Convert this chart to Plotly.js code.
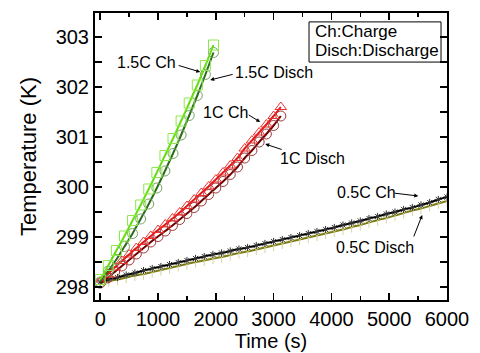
<!DOCTYPE html>
<html>
<head>
<meta charset="utf-8">
<script src="https://cdn.plot.ly/plotly-3.0.1.min.js"></script>
<style>
  html, body { margin: 0; padding: 0; background: #fff; }
  #chart { width: 480px; height: 353px; }
</style>
</head>
<body>
<div id="chart"></div>
<script>
// Cell temperature during charge / discharge at three C-rates
const t15 = [0, 140, 280, 420, 560, 700, 840, 980, 1120, 1260, 1400, 1540, 1680, 1820, 1960];
const ch15 = [298.15, 298.43, 298.73, 299.02, 299.33, 299.64, 299.96, 300.29, 300.63, 300.97, 301.32, 301.68, 302.04, 302.43, 302.84];
const dis15 = [298.10, 298.32, 298.55, 298.81, 299.07, 299.36, 299.66, 299.98, 300.32, 300.67, 301.04, 301.43, 301.83, 302.25, 302.69];

const t10 = [0, 125, 250, 375, 500, 625, 750, 875, 1000, 1125, 1250, 1375, 1500, 1625, 1750, 1875, 2000, 2125, 2250, 2375, 2500, 2625, 2750, 2875, 3000, 3125];
const ch10 = [298.10, 298.25, 298.39, 298.52, 298.65, 298.78, 298.90, 299.02, 299.14, 299.25, 299.37, 299.49, 299.62, 299.75, 299.88, 300.01, 300.15, 300.29, 300.43, 300.58, 300.77, 300.93, 301.09, 301.25, 301.42, 301.60];
const dis10 = [298.08, 298.18, 298.30, 298.42, 298.54, 298.66, 298.78, 298.90, 299.01, 299.12, 299.23, 299.35, 299.47, 299.59, 299.72, 299.85, 299.98, 300.11, 300.25, 300.40, 300.58, 300.73, 300.90, 301.06, 301.23, 301.42];

const t05 = [0, 150, 300, 450, 600, 750, 900, 1050, 1200, 1350, 1500, 1650, 1800, 1950, 2100, 2250, 2400, 2550, 2700, 2850, 3000, 3150, 3300, 3450, 3600, 3750, 3900, 4050, 4200, 4350, 4500, 4650, 4800, 4950, 5100, 5250, 5400, 5550, 5700, 5850, 6000];
const ch05 = [298.10, 298.15, 298.19, 298.24, 298.28, 298.33, 298.37, 298.41, 298.45, 298.49, 298.53, 298.57, 298.61, 298.65, 298.68, 298.72, 298.76, 298.79, 298.83, 298.87, 298.91, 298.95, 298.99, 299.03, 299.07, 299.11, 299.15, 299.19, 299.24, 299.28, 299.32, 299.37, 299.41, 299.46, 299.50, 299.55, 299.59, 299.64, 299.69, 299.75, 299.80];
const dis05 = [298.08, 298.12, 298.15, 298.19, 298.23, 298.26, 298.30, 298.34, 298.38, 298.42, 298.46, 298.50, 298.53, 298.57, 298.60, 298.64, 298.68, 298.71, 298.75, 298.79, 298.83, 298.87, 298.91, 298.95, 298.99, 299.03, 299.07, 299.11, 299.15, 299.20, 299.24, 299.29, 299.34, 299.38, 299.43, 299.48, 299.53, 299.57, 299.62, 299.67, 299.72];

const xTicks = [0, 1000, 2000, 3000, 4000, 5000, 6000];
const yTicks = [298, 299, 300, 301, 302, 303];

const FONT = 'Liberation Sans, Arial, sans-serif';

function series(x, y, lineColor, symbol, markerColor, size) {
  return {
    x: x, y: y, type: 'scatter', mode: 'lines+markers',
    line: { color: lineColor, width: 2, shape: 'spline' },
    marker: { symbol: symbol, size: size, color: markerColor, line: { color: markerColor, width: 1 } },
    showlegend: false, hoverinfo: 'skip'
  };
}

const traces = [
  series(t05, dis05, '#7c7c12', 'y-down-open', '#d6d69a', 7),
  series(t05, ch05, '#000000', 'asterisk-open', '#333333', 6),
  series(t10, dis10, '#6e0000', 'circle-open', '#9a3a3a', 10),
  series(t10, ch10, '#e01818', 'triangle-up-open', '#ee3030', 10),
  series(t15, dis15, '#2c6a1e', 'circle-open', '#74a464', 10),
  series(t15, ch15, '#66dd11', 'square-open', '#8ee84a', 10)
];

// curve labels with pointer arrows
const labels = [
  { text: '1.5C Ch', x: 796, y: 302.5, hx: 1730, hy: 302.3, tx: 1332, ty: 302.44 },
  { text: '1.5C Disch', x: 3010, y: 302.3, hx: 1903, hy: 302.14, tx: 2318, ty: 302.26 },
  { text: '1C Ch', x: 2163, y: 301.5, hx: 2768, hy: 301.3, tx: 2543, ty: 301.46 },
  { text: '1C Disch', x: 3668, y: 300.58, hx: 2855, hy: 300.86, tx: 3166, ty: 300.74 },
  { text: '0.5C Ch', x: 4602, y: 299.9, hx: 5502, hy: 299.82, tx: 5069, ty: 299.88 },
  { text: '0.5C Disch', x: 4758, y: 298.8, hx: 5571, hy: 299.44, tx: 5415, ty: 298.98 }
];

const annotations = [];
labels.forEach(l => {
  annotations.push({ x: l.x, y: l.y, xref: 'x', yref: 'y', text: l.text, showarrow: false,
    font: { family: FONT, size: 16, color: '#000' } });
  annotations.push({ x: l.hx, y: l.hy, xref: 'x', yref: 'y', ax: l.tx, ay: l.ty, axref: 'x', ayref: 'y',
    text: '', showarrow: true, arrowhead: 2, arrowsize: 0.8, arrowwidth: 1, arrowcolor: '#000', standoff: 0 });
});
annotations.push({ x: 0.619, y: 0.937, xref: 'paper', yref: 'paper', xanchor: 'left', yanchor: 'middle',
  text: 'Ch:Charge', showarrow: false, font: { family: FONT, size: 17, color: '#000' } });
annotations.push({ x: 0.619, y: 0.871, xref: 'paper', yref: 'paper', xanchor: 'left', yanchor: 'middle',
  text: 'Disch:Discharge', showarrow: false, font: { family: FONT, size: 17, color: '#000' } });

const axisCommon = {
  showgrid: false, zeroline: false, showline: true, linecolor: '#000', linewidth: 2,
  mirror: 'allticks', ticks: 'inside', ticklen: 7, tickwidth: 1.5, tickcolor: '#000',
  tickfont: { family: FONT, size: 20, color: '#000' }
};

const layout = {
  width: 480, height: 353,
  margin: { l: 95, r: 33, t: 13, b: 53 },
  paper_bgcolor: '#fff', plot_bgcolor: '#fff',
  xaxis: Object.assign({}, axisCommon, {
    range: [-90, 6000], tickvals: xTicks, ticktext: xTicks.map(String),
    minor: { dtick: 500, tick0: 0, ticks: 'inside', ticklen: 4, tickwidth: 1.5, tickcolor: '#000' },
    title: { text: 'Time (s)', font: { family: FONT, size: 20, color: '#000' }, standoff: 0 }
  }),
  yaxis: Object.assign({}, axisCommon, {
    range: [297.74, 303.48], tickvals: yTicks, ticktext: yTicks.map(String),
    minor: { dtick: 0.5, tick0: 298, ticks: 'inside', ticklen: 7, tickwidth: 1.5, tickcolor: '#000' },
    title: { text: 'Temperature (K)', font: { family: FONT, size: 22, color: '#000' }, standoff: 13 }
  }),
  shapes: [{ type: 'rect', xref: 'paper', yref: 'paper', x0: 0.608, x1: 0.983, y0: 0.829, y1: 0.969,
    line: { color: '#000', width: 1 }, fillcolor: 'rgba(0,0,0,0)' }],
  annotations: annotations
};

Plotly.newPlot('chart', traces, layout, { staticPlot: true, displayModeBar: false });
</script>
</body>
</html>
